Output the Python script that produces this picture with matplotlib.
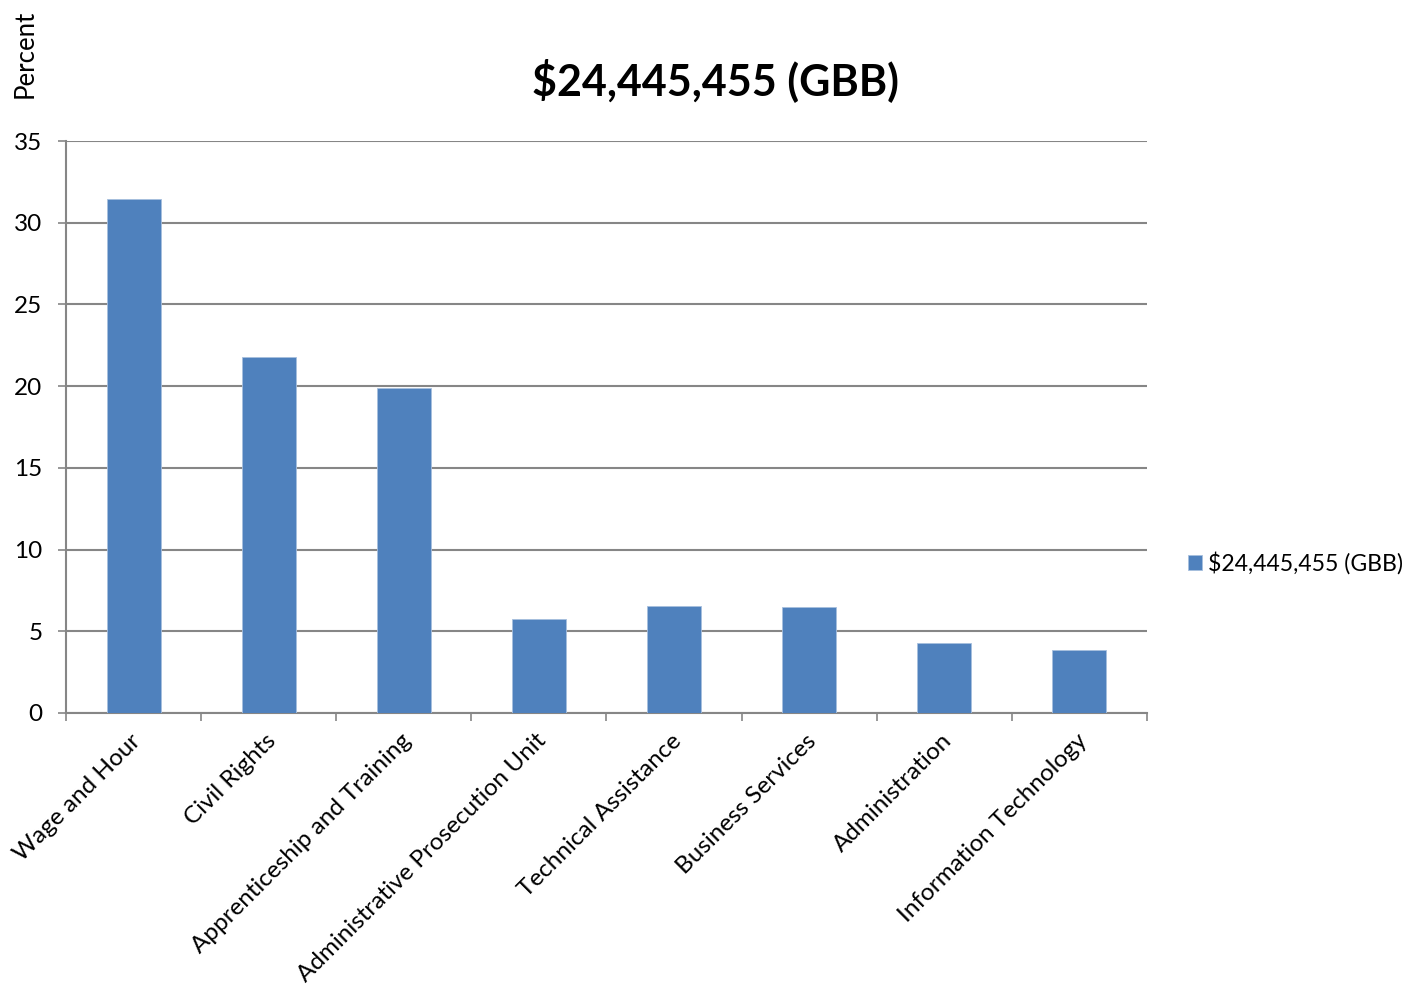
import matplotlib.pyplot as plt
import numpy as np

plt.rcParams['font.family'] = ['Lato', 'DejaVu Sans']

# Share of budget by unit
units = ['Wage and Hour', 'Civil Rights', 'Apprenticeship and Training',
         'Administrative Prosecution Unit', 'Technical Assistance',
         'Business Services', 'Administration', 'Information Technology']
percent = [31.48, 21.77, 19.89, 5.75, 6.52, 6.48, 4.27, 3.88]
series_name = '$24,445,455 (GBB)'
yticks = [0, 5, 10, 15, 20, 25, 30, 35]

bar_color = '#4F81BD'
grid_color = '#868686'

fig = plt.figure(figsize=(14.16, 9.93), dpi=100)
ax = fig.add_axes([0.0466, 0.282, 0.7634, 0.576])

x = np.arange(len(units))
ax.bar(x, percent, width=0.4, color=bar_color, edgecolor='#A7BFDE',
       linewidth=0.6, label=series_name, zorder=3)

ax.set_xlim(-0.5, len(units) - 0.5)
ax.set_ylim(0, 35)
ax.set_yticks(yticks)
ax.yaxis.grid(True, color=grid_color, linewidth=1.5, zorder=0)
ax.tick_params(axis='y', length=6, width=1.2, color=grid_color,
               labelsize=17.5, pad=11)

# category boundary ticks on the x axis
ax.set_xticks(np.arange(len(units) + 1) - 0.5)
ax.set_xticklabels([])
ax.tick_params(axis='x', length=6, width=1.2, color=grid_color, direction='out')
for i, name in enumerate(units):
    ax.text(i + 0.03, -1.5, name, rotation=45, ha='right', va='center',
            rotation_mode='anchor', fontsize=17.5)

for side in ['top', 'right']:
    ax.spines[side].set_visible(False)
for side in ['left', 'bottom']:
    ax.spines[side].set_color(grid_color)
    ax.spines[side].set_linewidth(1.5)

fig.text(0.505, 0.919, series_name, ha='center', va='center',
         fontsize=31, fontweight='bold')
fig.text(0.0177, 0.946, 'Percent', rotation=90, ha='center', va='center',
         fontsize=18.5)

leg = fig.legend(loc='center left', bbox_to_anchor=(0.829, 0.433),
                 frameon=False, fontsize=16.6, handlelength=0.6,
                 handleheight=0.6, handletextpad=0.3, borderaxespad=0.2)

fig.savefig('out.png', dpi=100, facecolor='white')
